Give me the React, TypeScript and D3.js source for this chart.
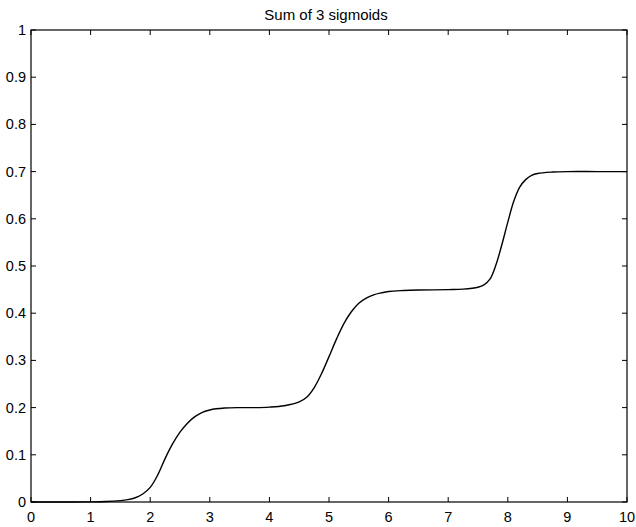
import React from "react";
import * as d3 from "d3";

const title = "Sum of 3 sigmoids";
const xTicks = [0, 1, 2, 3, 4, 5, 6, 7, 8, 9, 10];
const yTicks = [0, 0.1, 0.2, 0.3, 0.4, 0.5, 0.6, 0.7, 0.8, 0.9, 1];
const yTickLabels = ["0", "0.1", "0.2", "0.3", "0.4", "0.5", "0.6", "0.7", "0.8", "0.9", "1"];

const xs = [
  0, 0.5, 1.0, 1.25, 1.5, 1.625, 1.75, 1.875, 2.0, 2.125, 2.25, 2.375, 2.5, 2.625, 2.75, 2.875,
  3.0, 3.25, 3.5, 3.75, 4.0, 4.25, 4.5, 4.625, 4.75, 4.875, 5.0, 5.125, 5.25, 5.375, 5.5, 5.625,
  5.75, 5.875, 6.0, 6.25, 6.5, 7.0, 7.25, 7.5, 7.6, 7.7, 7.8, 7.9, 8.0, 8.1, 8.2, 8.3,
  8.4, 8.5, 8.75, 9.0, 9.5, 10.0,
];
const ys = [
  0, 0, 0.0003, 0.001, 0.003, 0.005, 0.009, 0.017, 0.031, 0.057, 0.092, 0.123, 0.148, 0.167, 0.181, 0.19,
  0.195, 0.199, 0.2, 0.2, 0.201, 0.204, 0.212, 0.222, 0.242, 0.272, 0.308, 0.345, 0.378, 0.403, 0.421, 0.432,
  0.439, 0.443, 0.446, 0.448, 0.449, 0.45, 0.451, 0.455, 0.46, 0.472, 0.502, 0.545, 0.593, 0.637, 0.667, 0.683,
  0.692, 0.696, 0.699, 0.7, 0.7, 0.7,
];

export default function App() {
  const W = 636, H = 527;
  const L = 31, R = 627, T = 30, B = 502;
  const x = d3.scaleLinear().domain([0, 10]).range([L, R]);
  const y = d3.scaleLinear().domain([0, 1]).range([B, T]);
  const line = d3.line<number>()
    .x((_, i) => x(xs[i]))
    .y((d) => y(d))
    .curve(d3.curveCatmullRom.alpha(0.5));
  const tl = 5;
  const font = "'Liberation Sans', Arial, Helvetica, sans-serif";
  return (
    <svg width={W} height={H} style={{ position: "absolute", left: 0, top: 0, background: "#fff" }}>
      <rect x={0} y={0} width={W} height={H} fill="#fff" />
      <text x={326} y={20} textAnchor="middle" fontFamily={font} fontSize={15} fill="#000">{title}</text>
      <rect x={L} y={T} width={R - L} height={B - T} fill="none" stroke="#000" strokeWidth={1.2} />
      {xTicks.map((t) => (
        <g key={"x" + t}>
          <line x1={x(t)} x2={x(t)} y1={B} y2={B - tl} stroke="#000" strokeWidth={1} />
          <line x1={x(t)} x2={x(t)} y1={T} y2={T + tl} stroke="#000" strokeWidth={1} />
          <text x={x(t)} y={522} textAnchor="middle" fontFamily={font} fontSize={14.5} fill="#000">{t}</text>
        </g>
      ))}
      {yTicks.map((t, i) => (
        <g key={"y" + t}>
          <line x1={L} x2={L + tl} y1={y(t)} y2={y(t)} stroke="#000" strokeWidth={1} />
          <line x1={R} x2={R - tl} y1={y(t)} y2={y(t)} stroke="#000" strokeWidth={1} />
          <text x={26} y={y(t) + 5} textAnchor="end" fontFamily={font} fontSize={14.5} fill="#000">{yTickLabels[i]}</text>
        </g>
      ))}
      <path d={line(ys) || ""} fill="none" stroke="#000" strokeWidth={1.4} />
    </svg>
  );
}
